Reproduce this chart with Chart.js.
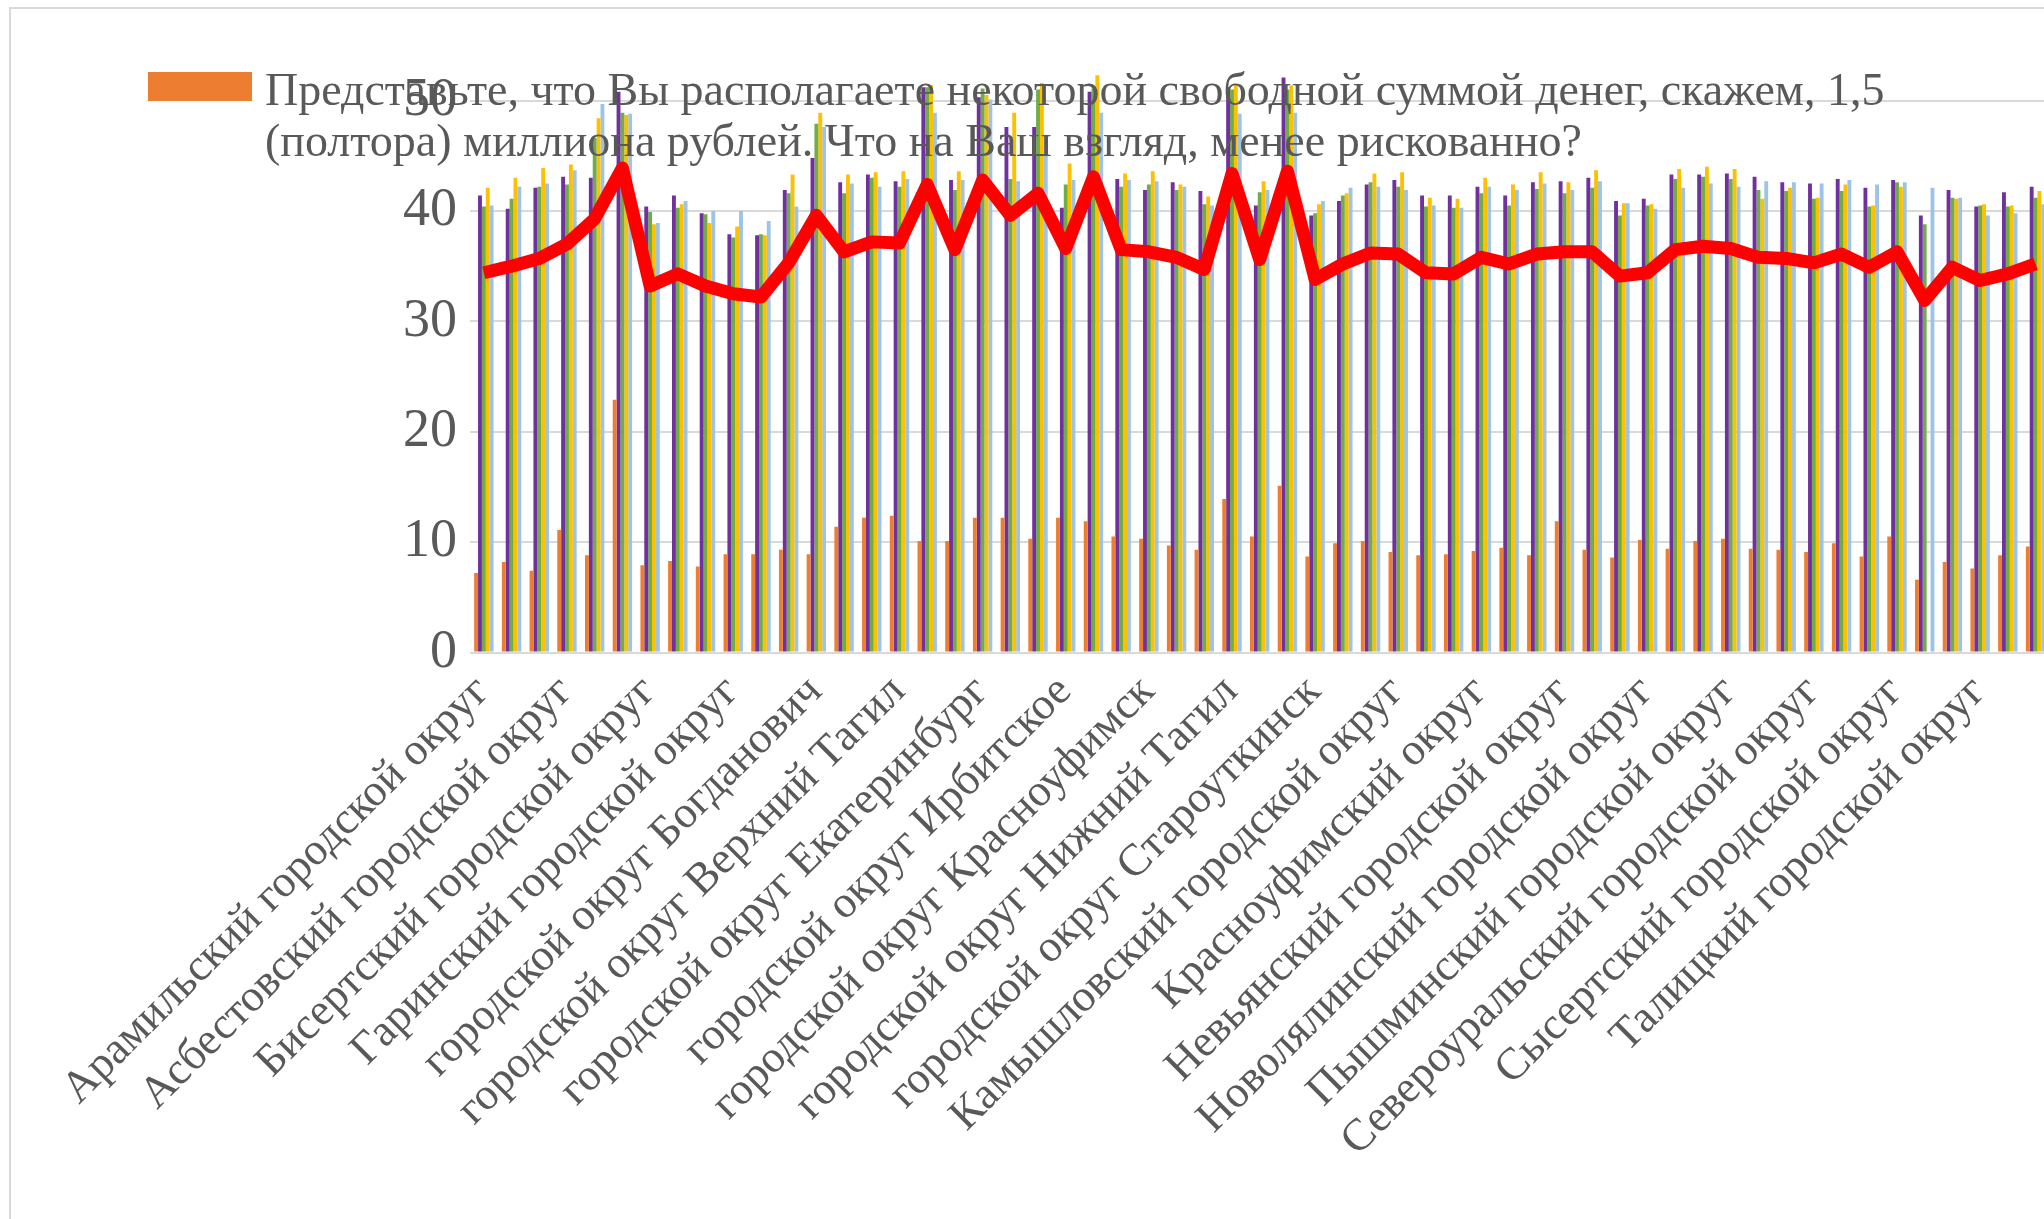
<!DOCTYPE html>
<html lang="ru">
<head>
<meta charset="utf-8">
<title>Менее рискованно</title>
<script src="https://cdn.jsdelivr.net/npm/chart.js@4.4.1/dist/chart.umd.min.js"></script>
<style>
    html, body {
        margin: 0;
        padding: 0;
        background: #ffffff;
        overflow: hidden;
        width: 2044px;
        height: 1219px;
    }
    #frame {
        position: absolute;
        left: 9px;
        top: 7px;
        width: 2100px;
        height: 1300px;
        border-left: 2px solid #d9d9d9;
        border-top: 2px solid #d9d9d9;
    }
    #chart-wrap {
        position: absolute;
        left: 0;
        top: 0;
    }
    #legend-box {
        position: absolute;
        left: 148px;
        top: 72px;
        width: 104px;
        height: 29px;
        background: #ED7D31;
    }
    #legend-text {
        position: absolute;
        left: 265px;
        top: 64px;
        font-family: 'Liberation Serif', 'Times New Roman', serif;
        font-size: 46px;
        line-height: 51px;
        color: #595959;
        white-space: nowrap;
    }
</style>
</head>
<body>
<div id="frame"></div>
<div id="chart-wrap"><canvas id="chart" width="2060" height="1219"></canvas></div>
<div id="legend-box"></div>
<div id="legend-text">Представьте, что Вы располагаете некоторой свободной суммой денег, скажем, 1,5<br>(полтора) миллиона рублей. Что на Ваш взгляд, менее рискованно?</div>
<script>
// Districts (only every third one is labelled on the axis)
const districts = [
    'Арамильский городской округ', 'Артемовский городской округ', 'Артинский городской округ',
    'Асбестовский городской округ', 'Белоярский городской округ', 'Березовский городской округ',
    'Бисертский городской округ', 'Верхнесалдинский городской округ', 'Волчанский городской округ',
    'Гаринский городской округ', 'Горноуральский городской округ', 'город Каменск-Уральский',
    'городской округ Богданович', 'городской округ Верх-Нейвинский', 'городской округ Верхнее Дуброво',
    'городской округ Верхний Тагил', 'городской округ Верхняя Пышма', 'городской округ Верхотурский',
    'городской округ Екатеринбург', 'городской округ Заречный', 'Ивдельский городской округ',
    'городской округ Ирбитское', 'городской округ Карпинск', 'городской округ Краснотурьинск',
    'городской округ Красноуфимск', 'городской округ Красноуральск', 'городской округ Лесной',
    'городской округ Нижний Тагил', 'городской округ Пелым', 'городской округ Ревда',
    'городской округ Староуткинск', 'городской округ Сухой Лог', 'Каменский городской округ',
    'Камышловский городской округ', 'Качканарский городской округ', 'Кировградский городской округ',
    'Красноуфимский округ', 'Кушвинский городской округ', 'Малышевский городской округ',
    'Невьянский городской округ', 'Нижнесергинский муниципальный район', 'Нижнетуринский городской округ',
    'Новолялинский городской округ', 'Новоуральский городской округ', 'Полевской городской округ',
    'Пышминский городской округ', 'Режевской городской округ', 'Серовский городской округ',
    'Североуральский городской округ', 'Слободо-Туринский муниципальный район', 'Сосьвинский городской округ',
    'Сысертский городской округ', 'Таборинский муниципальный район', 'Тавдинский городской округ',
    'Талицкий городской округ', 'Тугулымский городской округ', 'Туринский городской округ'
];

const seriesNames = [
    'Представьте, что Вы располагаете некоторой свободной суммой денег, скажем, 1,5 (полтора) миллиона рублей. Что на Ваш взгляд, менее рискованно?',
    'Ряд 2', 'Ряд 3', 'Ряд 4', 'Ряд 5', 'Среднее'
];

const orangeValues = [
    7.2, 8.2, 7.4, 11.1, 8.8, 22.9, 7.9, 8.3, 7.8, 8.9, 8.9, 9.3, 8.9, 11.4, 12.2, 12.4, 10.1, 10.1, 12.2,
    12.2, 10.3, 12.2, 11.9, 10.5, 10.3, 9.7, 9.3, 13.9, 10.5, 15.1, 8.7, 9.9, 10.1, 9.1, 8.8, 8.9, 9.2, 9.5,
    8.8, 11.9, 9.3, 8.6, 10.2, 9.4, 10.1, 10.3, 9.4, 9.3, 9.1, 9.9, 8.7, 10.5, 6.6, 8.2, 7.6, 8.8, 9.6
];
const purpleValues = [
    41.4, 40.2, 42.1, 43.1, 43.0, 50.8, 40.4, 41.4, 39.8, 37.9, 37.8, 41.9, 44.8, 42.6, 43.3, 42.7, 51.2, 42.8, 50.3,
    47.6, 47.6, 40.3, 50.8, 42.9, 41.9, 42.6, 41.8, 51.2, 40.5, 52.1, 39.6, 40.9, 42.4, 42.8, 41.4, 41.4, 42.2, 41.4,
    42.6, 42.7, 43.0, 40.9, 41.1, 43.3, 43.3, 43.4, 43.1, 42.6, 42.5, 42.9, 42.1, 42.8, 39.6, 41.9, 40.4, 41.7, 42.2
];
const greenValues = [
    40.4, 41.1, 42.2, 42.4, 46.6, 48.9, 39.9, 40.3, 39.7, 37.6, 37.9, 41.6, 47.9, 41.6, 43.0, 42.2, 51.2, 41.9, 51.1,
    42.9, 51.0, 42.4, 51.1, 42.2, 42.4, 41.9, 40.6, 51.0, 41.7, 51.0, 39.8, 41.4, 42.6, 42.2, 40.4, 40.3, 41.6, 40.5,
    42.0, 41.6, 42.1, 39.6, 40.5, 42.9, 43.1, 42.9, 41.9, 41.8, 41.1, 41.8, 40.4, 42.6, 38.8, 41.2, 40.5, 40.4, 41.2
];
const yellowValues = [
    42.1, 43.0, 43.9, 44.2, 48.4, 48.7, 38.8, 40.6, 38.9, 38.6, 37.8, 43.3, 48.9, 43.3, 43.5, 43.6, 51.4, 43.6, 50.5,
    48.9, 51.6, 44.3, 52.3, 43.4, 43.6, 42.4, 41.3, 51.5, 42.7, 51.4, 40.6, 41.6, 43.4, 43.5, 41.2, 41.1, 43.0, 42.4,
    43.5, 42.6, 43.7, 40.7, 40.6, 43.8, 44.0, 43.8, 41.1, 42.1, 41.2, 42.4, 40.5, 42.2, null, 41.1, 40.6, 40.5, 41.8
];
const blueValues = [
    40.5, 42.2, 42.5, 43.7, 49.7, 48.8, 38.9, 40.9, 40.0, 40.0, 39.1, 40.4, 47.6, 42.5, 42.2, 42.9, 48.9, 42.8, 50.1,
    42.7, 46.9, 42.8, 48.9, 42.8, 42.7, 42.2, 40.5, 48.8, 41.9, 48.9, 40.9, 42.1, 42.2, 41.9, 40.5, 40.3, 42.2, 41.9,
    42.5, 41.9, 42.7, 40.7, 40.2, 42.1, 42.5, 42.2, 42.7, 42.6, 42.5, 42.8, 42.4, 42.6, 42.1, 41.2, 39.6, 39.8, 40.6
];
const redLineValues = [
    34.4, 35.0, 35.7, 37.0, 39.3, 43.9, 33.2, 34.3, 33.2, 32.5, 32.2, 35.3, 39.6, 36.3, 37.2, 37.1, 42.4, 36.5, 42.8,
    39.6, 41.6, 36.6, 43.1, 36.5, 36.3, 35.8, 34.7, 43.4, 35.6, 43.6, 33.8, 35.2, 36.2, 36.1, 34.4, 34.3, 35.8, 35.2,
    36.1, 36.3, 36.3, 34.1, 34.4, 36.5, 36.8, 36.6, 35.8, 35.7, 35.3, 36.1, 34.9, 36.3, 31.9, 34.9, 33.7, 34.3, 35.2
];

const yTicks = [0, 10, 20, 30, 40, 50];

const textGrey = '#595959';
const barColors = ['#ED7D31', '#7030A0', '#70AD47', '#FFC000', '#9DC3E6'];

function barSet(name, values, color) {
    return {
        type: 'bar',
        label: name,
        data: values,
        backgroundColor: color,
        borderWidth: 0,
        categoryPercentage: 0.7,
        barPercentage: 1.0,
        order: 1
    };
}

const ctx = document.getElementById('chart').getContext('2d');

new Chart(ctx, {
    data: {
        labels: districts,
        datasets: [
            {
                type: 'line',
                label: seriesNames[5],
                data: redLineValues,
                borderColor: '#FF0000',
                borderWidth: 13,
                pointRadius: 0,
                tension: 0,
                borderJoinStyle: 'round',
                fill: false,
                order: 0
            },
            barSet(seriesNames[0], orangeValues, barColors[0]),
            barSet(seriesNames[1], purpleValues, barColors[1]),
            barSet(seriesNames[2], greenValues, barColors[2]),
            barSet(seriesNames[3], yellowValues, barColors[3]),
            barSet(seriesNames[4], blueValues, barColors[4])
        ]
    },
    options: {
        responsive: false,
        animation: false,
        layout: { padding: { left: 0, right: 10.6, top: 31.5, bottom: 0 } },
        plugins: {
            legend: { display: false },
            tooltip: { enabled: false }
        },
        scales: {
            x: {
                offset: true,
                grid: { display: false },
                border: { display: false },
                ticks: {
                    autoSkip: false,
                    minRotation: 45,
                    maxRotation: 45,
                    padding: 5,
                    labelOffset: -1,
                    color: textGrey,
                    font: { family: 'Liberation Serif', size: 45 },
                    callback: function (value, index) {
                        return index % 3 === 0 ? this.getLabelForValue(value) : '';
                    }
                },
                afterFit: (scale) => {
                    scale.height = 566.5;
                    // the picture is cropped on the right, so no room is kept for labels
                    scale.paddingLeft = 0;
                    scale.paddingRight = 0;
                }
            },
            y: {
                min: 0,
                max: 55,
                grid: { color: '#d9d9d9', lineWidth: 2, drawTicks: false },
                border: { display: false },
                ticks: {
                    padding: 13,
                    color: textGrey,
                    font: { family: 'Liberation Serif', size: 54 }
                },
                afterBuildTicks: (scale) => {
                    scale.ticks = yTicks.map(v => ({ value: v }));
                },
                afterFit: (scale) => { scale.width = 470; }
            }
        }
    }
});
</script>
</body>
</html>
